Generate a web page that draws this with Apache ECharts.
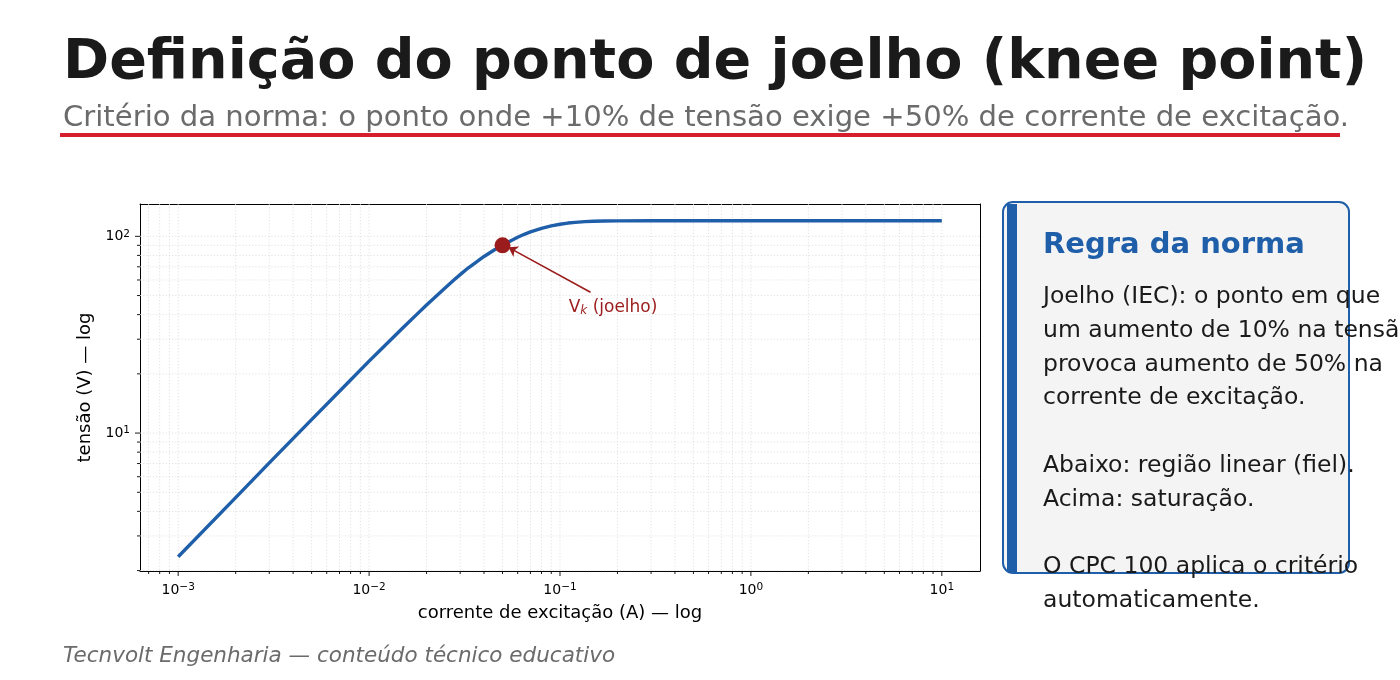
<!DOCTYPE html>
<html>
<head>
<meta charset="utf-8">
<script src="https://cdn.jsdelivr.net/npm/echarts@6/dist/echarts.min.js"></script>
<style>
  html, body { margin: 0; padding: 0; background: #fff; }
  #main { width: 1400px; height: 680px; }
</style>
</head>
<body>
<div id="main"></div>
<script>
// curva de excitação (corrente A, tensão V)
const corrente = [0.001, 0.002, 0.003, 0.005, 0.008, 0.01, 0.012, 0.015, 0.018, 0.02, 0.022, 0.025, 0.028, 0.03, 0.033, 0.036, 0.04, 0.045, 0.05, 0.055, 0.06, 0.065, 0.07, 0.08, 0.09, 0.1, 0.11, 0.12, 0.135, 0.15, 0.17, 0.2, 0.3, 0.5, 1, 2, 5, 10];
const tensao   = [2.35, 4.7, 7.05, 11.7, 18.6, 23.2, 27.6, 34.2, 40.6, 44.8, 48.8, 54.6, 60.3, 63.9, 69.0, 73.4, 79.0, 85.0, 90.2, 94.8, 98.9, 102.4, 105.3, 109.8, 113.0, 115.2, 116.8, 117.8, 118.8, 119.3, 119.7, 119.9, 120, 120, 120, 120, 120, 120];
const joelho = [0.05, 90];
// seta e rótulo da anotação
const setaInicio = [0.1445, 52];
const setaFim = [0.0537, 87.9];
const rotuloPos = [0.111, 43.6];
// ticks do eixo log
const xMaiores = [1e-3, 1e-2, 1e-1, 1, 10];
const xMenores = [7e-4, 8e-4, 9e-4, 2e-3, 3e-3, 4e-3, 5e-3, 6e-3, 7e-3, 8e-3, 9e-3, 2e-2, 3e-2, 4e-2, 5e-2, 6e-2, 7e-2, 8e-2, 9e-2, 0.2, 0.3, 0.4, 0.5, 0.6, 0.7, 0.8, 0.9, 2, 3, 4, 5, 6, 7, 8, 9];
const yMaiores = [10, 100];
const yMenores = [2, 3, 4, 5, 6, 7, 8, 9, 20, 30, 40, 50, 60, 70, 80, 90];

const AZUL = '#1f5ea8';
const VERMELHO = '#9b1c1c';
const GRADE = '#d9d9d9';
const FONTE = 'DejaVu Sans';

const chart = echarts.init(document.getElementById('main'));

function fmtPot(v) {
  const e = Math.log10(v);
  if (Math.abs(e - Math.round(e)) > 1e-6) return '';
  const n = Math.round(e);
  return '{b|10}{e|' + (n < 0 ? '\u2212' + (-n) : n) + '}';
}
const richPot = {
  b: { fontSize: 14, fontFamily: FONTE, color: '#000', lineHeight: 16 },
  e: { fontSize: 10.5, fontFamily: FONTE, color: '#000', verticalAlign: 'top', lineHeight: 10 }
};

// grade pontilhada + tick, eixo x
function gradeX(params, api) {
  const cs = params.coordSys;
  const p = api.coord([api.value(0), 10]);
  const yb = cs.y + cs.height;
  return { type: 'group', children: [
    { type: 'line', shape: { x1: p[0], y1: cs.y, x2: p[0], y2: yb }, style: { stroke: GRADE, lineWidth: 0.8, lineDash: [1.2, 2] } },
    { type: 'line', shape: { x1: p[0], y1: yb, x2: p[0], y2: yb + api.value(2) }, style: { stroke: '#000', lineWidth: 0.9 } }
  ]};
}
// grade pontilhada + tick, eixo y
function gradeY(params, api) {
  const cs = params.coordSys;
  const p = api.coord([0.01, api.value(1)]);
  return { type: 'group', children: [
    { type: 'line', shape: { x1: cs.x, y1: p[1], x2: cs.x + cs.width, y2: p[1] }, style: { stroke: GRADE, lineWidth: 0.8, lineDash: [1.2, 2] } },
    { type: 'line', shape: { x1: cs.x - api.value(2), y1: p[1], x2: cs.x, y2: p[1] }, style: { stroke: '#000', lineWidth: 0.9 } }
  ]};
}

const textoRegra = [
  'Joelho (IEC): o ponto em que',
  'um aumento de 10% na tensão',
  'provoca aumento de 50% na',
  'corrente de excitação.',
  '',
  'Abaixo: região linear (fiel).',
  'Acima: saturação.',
  '',
  'O CPC 100 aplica o critério',
  'automaticamente.'
].join('\n');

const eixoBorda = { show: true, lineStyle: { color: '#000', width: 1 } };

const option = {
  backgroundColor: '#fff',
  animation: false,
  textStyle: { fontFamily: FONTE },
  grid: { left: 140, top: 204, width: 840, height: 367 },
  xAxis: [{
    type: 'log', logBase: 10, min: 6.31e-4, max: 15.85,
    name: 'corrente de excitação (A) — log', nameLocation: 'middle', nameGap: 33,
    nameTextStyle: { fontSize: 18, color: '#000', fontFamily: FONTE },
    axisLine: eixoBorda,
    axisTick: { show: false },
    axisLabel: { formatter: fmtPot, rich: richPot, margin: 11 },
    splitLine: { show: false }
  }, {
    type: 'log', logBase: 10, min: 6.31e-4, max: 15.85, position: 'top',
    axisLine: eixoBorda, axisTick: { show: false }, axisLabel: { show: false }, splitLine: { show: false }
  }],
  yAxis: [{
    type: 'log', logBase: 10, min: 1.99, max: 146,
    name: 'tensão (V) — log', nameLocation: 'middle', nameGap: 40,
    nameTextStyle: { fontSize: 18, color: '#000', fontFamily: FONTE },
    axisLine: eixoBorda,
    axisTick: { show: false },
    axisLabel: { formatter: fmtPot, rich: richPot, margin: 10 },
    splitLine: { show: false }
  }, {
    type: 'log', logBase: 10, min: 1.99, max: 146, position: 'right',
    axisLine: eixoBorda, axisTick: { show: false }, axisLabel: { show: false }, splitLine: { show: false }
  }],
  series: [
    { type: 'custom', silent: true, renderItem: gradeX, z: 1,
      data: xMaiores.map(v => [v, 10, 5]).concat(xMenores.map(v => [v, 10, 3])) },
    { type: 'custom', silent: true, renderItem: gradeY, z: 1,
      data: yMaiores.map(v => [0.01, v, 5]).concat(yMenores.map(v => [0.01, v, 3])) },
    {
      type: 'line', data: corrente.map((c, i) => [c, tensao[i]]),
      showSymbol: false, lineStyle: { color: AZUL, width: 3.4, join: 'round', cap: 'butt' }, z: 3
    },
    {
      type: 'scatter', data: [joelho], symbolSize: 16,
      itemStyle: { color: VERMELHO, opacity: 1 }, z: 4,
      markLine: {
        silent: true, symbol: ['none', 'arrow'], symbolSize: 9,
        lineStyle: { color: VERMELHO, width: 1.6, type: 'solid' },
        label: { show: false },
        data: [[{ coord: setaInicio }, { coord: setaFim }]]
      },
      markPoint: {
        silent: true, symbol: 'circle', symbolSize: 0,
        data: [{ coord: rotuloPos }],
        label: {
          show: true, position: 'right', distance: 0,
          formatter: '{v|V}{k|k}{v| (joelho)}',
          rich: {
            v: { fontSize: 17, color: VERMELHO, fontFamily: FONTE, lineHeight: 20 },
            k: { fontSize: 12, color: VERMELHO, fontFamily: FONTE, fontStyle: 'italic', verticalAlign: 'bottom', lineHeight: 12 }
          }
        }
      }
    }
  ],
  graphic: [
    { type: 'text', left: 63, top: 36, style: { text: 'Definição do ponto de joelho (knee point)', font: 'bold 55.6px "DejaVu Sans"', fill: '#1a1a1a' } },
    { type: 'text', left: 63, top: 104, style: { text: 'Critério da norma: o ponto onde +10% de tensão exige +50% de corrente de excitação.', font: '29.1px "DejaVu Sans"', fill: '#6b6b6b' } },
    { type: 'rect', shape: { x: 60, y: 133, width: 1280, height: 4 }, style: { fill: '#d61f2e' } },
    { type: 'rect', shape: { x: 1003, y: 202, width: 346, height: 371, r: 10 }, style: { fill: '#f4f4f4', stroke: AZUL, lineWidth: 2 } },
    { type: 'rect', shape: { x: 1007, y: 204, width: 10, height: 368 }, style: { fill: AZUL } },
    { type: 'text', x: 1043, y: 231, style: { text: 'Regra da norma', font: 'bold 29px "DejaVu Sans"', fill: AZUL, verticalAlign: 'top' } },
    { type: 'text', x: 1043, y: 280, style: { text: textoRegra, font: '23.5px "DejaVu Sans"', fill: '#1a1a1a', lineHeight: 33.8, verticalAlign: 'top' } },
    { type: 'text', x: 63, y: 645, style: { text: 'Tecnvolt Engenharia — conteúdo técnico educativo', font: 'italic 21.5px "DejaVu Sans"', fill: '#6b6b6b', verticalAlign: 'top' } }
  ]
};
chart.setOption(option);
</script>
</body>
</html>
